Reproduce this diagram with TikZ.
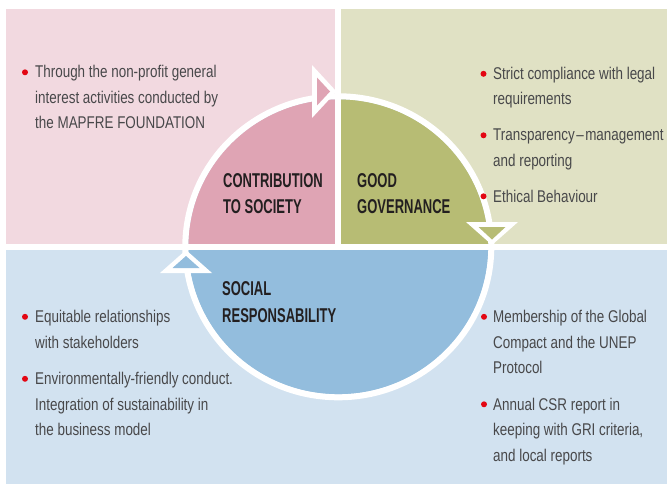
\documentclass[tikz,border=0pt]{standalone}
\usepackage{fontspec}
\setmainfont{Liberation Sans}
\newfontfamily\bodyfont{Liberation Sans}[FakeStretch=0.79]
\newfontfamily\titlefont{Liberation Sans}[FakeStretch=0.65]
\definecolor{panelpink}{HTML}{F2D9E0}
\definecolor{quadpink}{HTML}{DFA4B4}
\definecolor{panelgreen}{HTML}{E0E1C4}
\definecolor{quadgreen}{HTML}{B7BC74}
\definecolor{panelblue}{HTML}{D2E2F0}
\definecolor{quadblue}{HTML}{93BDDD}
\definecolor{bulletred}{HTML}{E30613}
\definecolor{bodygray}{HTML}{48484A}
\definecolor{titleblack}{HTML}{231F20}
\begin{document}
\begin{tikzpicture}[x=1pt,y=-1pt,
  bodytext/.style={anchor=base west, inner sep=0pt, font=\bodyfont\fontsize{17}{20}\selectfont, text=bodygray},
  titletext/.style={anchor=base west, inner sep=0pt, font=\titlefont\bfseries\fontsize{20}{24}\selectfont, text=titleblack},
  bulletdot/.style={circle, fill=bulletred, minimum size=6pt, inner sep=0pt},
  gapline/.style={white, line width=6pt},
  ringline/.style={white, line width=6pt}]
\useasboundingbox (0,0) rectangle (667,484);
\fill[white] (0,0) rectangle (667,484);
% panels
\fill[panelpink] (6,9) rectangle (338.3,246.8);
\fill[panelgreen] (338.3,9) rectangle (667,246.8);
\fill[panelblue] (6,246.8) rectangle (667,483.5);
% circle
\coordinate (C) at (338.3,246.8);
\fill[quadblue] (C) ellipse [x radius=150, y radius=147.5];
\fill[quadpink] (C) -- ++(-150,0) arc[start angle=180, end angle=270, x radius=150, y radius=147.5] -- cycle;
\fill[quadgreen] (C) -- ++(0,-147.5) arc[start angle=270, end angle=360, x radius=150, y radius=147.5] -- cycle;
\draw[ringline] (C) ellipse [x radius=153, y radius=150.5];
% white gaps
\draw[gapline] (338.3,0) -- (338.3,246.8);
\draw[gapline] (0,246.8) -- (667,246.8);
% arrows
\fill[white] (312,65) -- (312,118) -- (336.5,91.5) -- cycle;
\fill[quadpink] (317,77.5) -- (317,105.5) -- (330,91.5) -- cycle;
\fill[white] (466,222) -- (518,222) -- (492,245) -- cycle;
\fill[quadgreen] (478.5,227) -- (505.5,227) -- (492,239.5) -- cycle;
\fill[white] (160,273) -- (212,273) -- (186,250) -- cycle;
\fill[quadblue] (172.5,268) -- (199.5,268) -- (186,256) -- cycle;
% titles
\node[titletext] (ct1) at (223,188) {CONTRIBUTION};
\node[titletext] (ct2) at (223,213) {TO SOCIETY};
\node[titletext] (gg1) at (357,188) {GOOD};
\node[titletext] (gg2) at (357,213) {GOVERNANCE};
\node[titletext] (sr1) at (222,295.5) {SOCIAL};
\node[titletext] (sr2) at (222,322.5) {RESPONSABILITY};
% top left
\node[bulletdot] (b1) at (25,72.3) {};
\node[bodytext] (tl1) at (35,78) {Through the non-profit general};
\node[bodytext] (tl2) at (35,103.5) {interest activities conducted by};
\node[bodytext] (tl3) at (35,129) {the MAPFRE FOUNDATION};
% top right
\node[bulletdot] (b2) at (483.5,73.8) {};
\node[bodytext] (tr1) at (493,79.5) {Strict compliance with legal};
\node[bodytext] (tr2) at (493,105) {requirements};
\node[bulletdot] (b3) at (483.5,135.3) {};
\node[bodytext] (tr3) at (493,141) {Transparency\hspace{1.5pt}–\hspace{1.5pt}management};
\node[bodytext] (tr4) at (493,166.5) {and reporting};
\node[bulletdot] (b4) at (483.5,196.3) {};
\node[bodytext] (tr5) at (493,202) {Ethical Behaviour};
% bottom left
\node[bulletdot] (b5) at (25,316.8) {};
\node[bodytext] (bl1) at (35,322.5) {Equitable relationships};
\node[bodytext] (bl2) at (35,348) {with stakeholders};
\node[bulletdot] (b6) at (25,378.8) {};
\node[bodytext] (bl3) at (35,384.5) {Environmentally-friendly conduct.};
\node[bodytext] (bl4) at (35,410) {Integration of sustainability in};
\node[bodytext] (bl5) at (35,435.5) {the business model};
% bottom right
\node[bulletdot] (b7) at (484,316.8) {};
\node[bodytext] (br1) at (493,322.5) {Membership of the Global};
\node[bodytext] (br2) at (493,348) {Compact and the UNEP};
\node[bodytext] (br3) at (493,373.5) {Protocol};
\node[bulletdot] (b8) at (484,404.3) {};
\node[bodytext] (br4) at (493,410) {Annual CSR report in};
\node[bodytext] (br5) at (493,435.5) {keeping with GRI criteria,};
\node[bodytext] (br6) at (493,461) {and local reports};
\end{tikzpicture}
\end{document}
